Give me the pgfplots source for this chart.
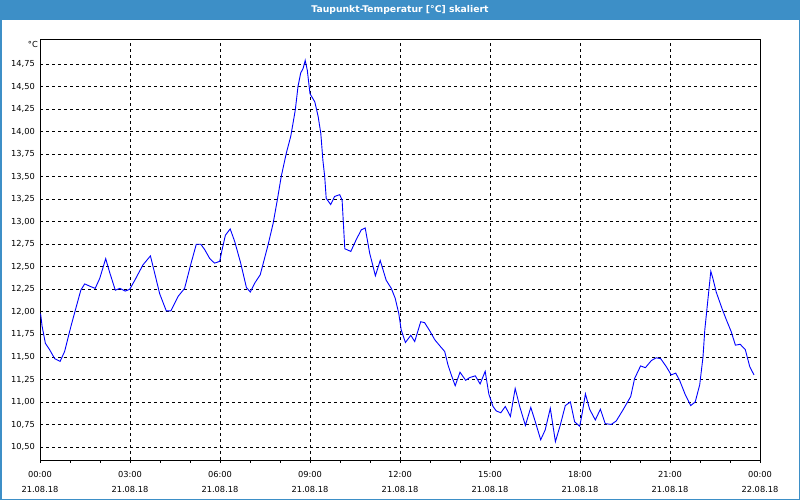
\documentclass[border=0pt]{standalone}
\usepackage{fontspec}
\setmainfont{DejaVu Sans}
\usepackage{pgfplots}
\pgfplotsset{compat=1.18}
\definecolor{barblue}{RGB}{61,143,199}
\pgfplotstableread{
h v
0.02 11.98
0.07 11.84
0.18 11.65
0.32 11.58
0.49 11.48
0.67 11.45
0.82 11.56
1.04 11.85
1.36 12.24
1.49 12.31
1.69 12.28
1.84 12.26
1.99 12.37
2.19 12.59
2.32 12.44
2.51 12.24
2.66 12.26
2.84 12.23
2.99 12.25
3.16 12.35
3.43 12.52
3.68 12.62
3.80 12.46
3.99 12.20
4.21 12.01
4.36 12.01
4.60 12.17
4.82 12.26
5.02 12.52
5.21 12.75
5.36 12.75
5.49 12.69
5.66 12.59
5.82 12.54
5.99 12.56
6.07 12.69
6.18 12.85
6.34 12.92
6.49 12.78
6.69 12.54
6.88 12.27
7.01 12.22
7.16 12.32
7.34 12.41
7.60 12.74
7.77 12.98
7.91 13.24
8.04 13.50
8.21 13.76
8.36 13.95
8.51 14.24
8.60 14.50
8.69 14.65
8.77 14.70
8.84 14.79
8.91 14.68
9.00 14.42
9.16 14.33
9.27 14.17
9.36 13.98
9.43 13.68
9.49 13.50
9.54 13.26
9.69 13.19
9.82 13.28
9.99 13.30
10.07 13.24
10.16 12.70
10.36 12.67
10.54 12.80
10.71 12.91
10.84 12.93
10.99 12.65
11.18 12.40
11.34 12.57
11.54 12.35
11.71 12.26
11.84 12.15
11.96 11.98
12.04 11.80
12.18 11.66
12.36 11.74
12.49 11.67
12.69 11.89
12.82 11.88
12.99 11.79
13.16 11.69
13.36 11.61
13.49 11.56
13.60 11.41
13.71 11.30
13.84 11.18
14.00 11.33
14.19 11.24
14.32 11.27
14.51 11.29
14.67 11.20
14.84 11.34
14.96 11.09
15.10 10.95
15.21 10.90
15.36 10.88
15.51 10.95
15.68 10.84
15.84 11.15
15.99 10.95
16.18 10.74
16.36 10.94
16.51 10.78
16.69 10.58
16.84 10.69
17.01 10.93
17.18 10.56
17.34 10.74
17.51 10.96
17.68 11.00
17.82 10.78
17.99 10.73
18.07 10.87
18.18 11.09
18.32 10.92
18.51 10.80
18.68 10.92
18.84 10.76
19.04 10.75
19.21 10.79
19.43 10.91
19.69 11.06
19.82 11.26
20.02 11.40
20.18 11.38
20.38 11.46
20.54 11.49
20.69 11.48
20.88 11.39
21.04 11.30
21.19 11.32
21.32 11.24
21.51 11.08
21.69 10.96
21.84 11.00
21.99 11.19
22.10 11.50
22.16 11.80
22.24 12.06
22.36 12.45
22.43 12.37
22.54 12.22
22.73 12.04
22.88 11.91
23.04 11.78
23.18 11.63
23.34 11.64
23.51 11.58
23.66 11.39
23.80 11.30
}\dewdata
\begin{document}
\begin{tikzpicture}
\fill[white] (0bp,0bp) rectangle (800bp,500bp);
\fill[barblue] (0bp,480bp) rectangle (800bp,500bp);
\draw[barblue, line width=1.5bp] (0.75bp,0.75bp) rectangle (799.25bp,499.25bp);
\node[white, font=\fontsize{9.3}{11}\selectfont\bfseries] at (400bp,490.5bp) {Taupunkt-Temperatur [°C] skaliert};
\begin{axis}[
  name=ax,
  at={(40bp,40bp)}, anchor=south west,
  scale only axis, width=720bp, height=420bp,
  xmin=0, xmax=24, ymin=10.356, ymax=15.016,
  xtick={0,3,6,9,12,15,18,21,24},
  xticklabels={00:00\\21.08.18,03:00\\21.08.18,06:00\\21.08.18,09:00\\21.08.18,12:00\\21.08.18,15:00\\21.08.18,18:00\\21.08.18,21:00\\21.08.18,00:00\\22.08.18},
  minor x tick num=2,
  ytick={10.5,10.75,11,11.25,11.5,11.75,12,12.25,12.5,12.75,13,13.25,13.5,13.75,14,14.25,14.5,14.75},
  xmajorgrids, ymajorgrids,
  major grid style={black, line width=0.7bp, dash pattern=on 3bp off 3bp},
  axis line style={black, line width=1bp},
  tick align=outside, xtick pos=left,
  major tick length=3bp, minor tick length=3bp,
  xtick style={black, line width=0.8bp},
  minor tick style={black, line width=0.8bp},
  ytick style={draw=none},
  xticklabel style={align=center, font=\fontsize{8.3}{15}\selectfont, inner sep=2bp, yshift=-6bp},
  yticklabel style={font=\fontsize{8.3}{10}\selectfont, inner sep=1bp, xshift=-1bp,
    /pgf/number format/.cd, fixed, fixed zerofill, precision=2, use comma, assume math mode=true},
]
\addplot[color={rgb,255:red,0;green,0;blue,255}, line width=0.9bp, mark=none] table[x=h, y=v] {\dewdata};
\end{axis}
\node[anchor=north east, inner sep=0pt, font=\fontsize{8.3}{10}\selectfont] at ([xshift=-2bp, yshift=-1bp]ax.north west) {°C};
\end{tikzpicture}
\end{document}
